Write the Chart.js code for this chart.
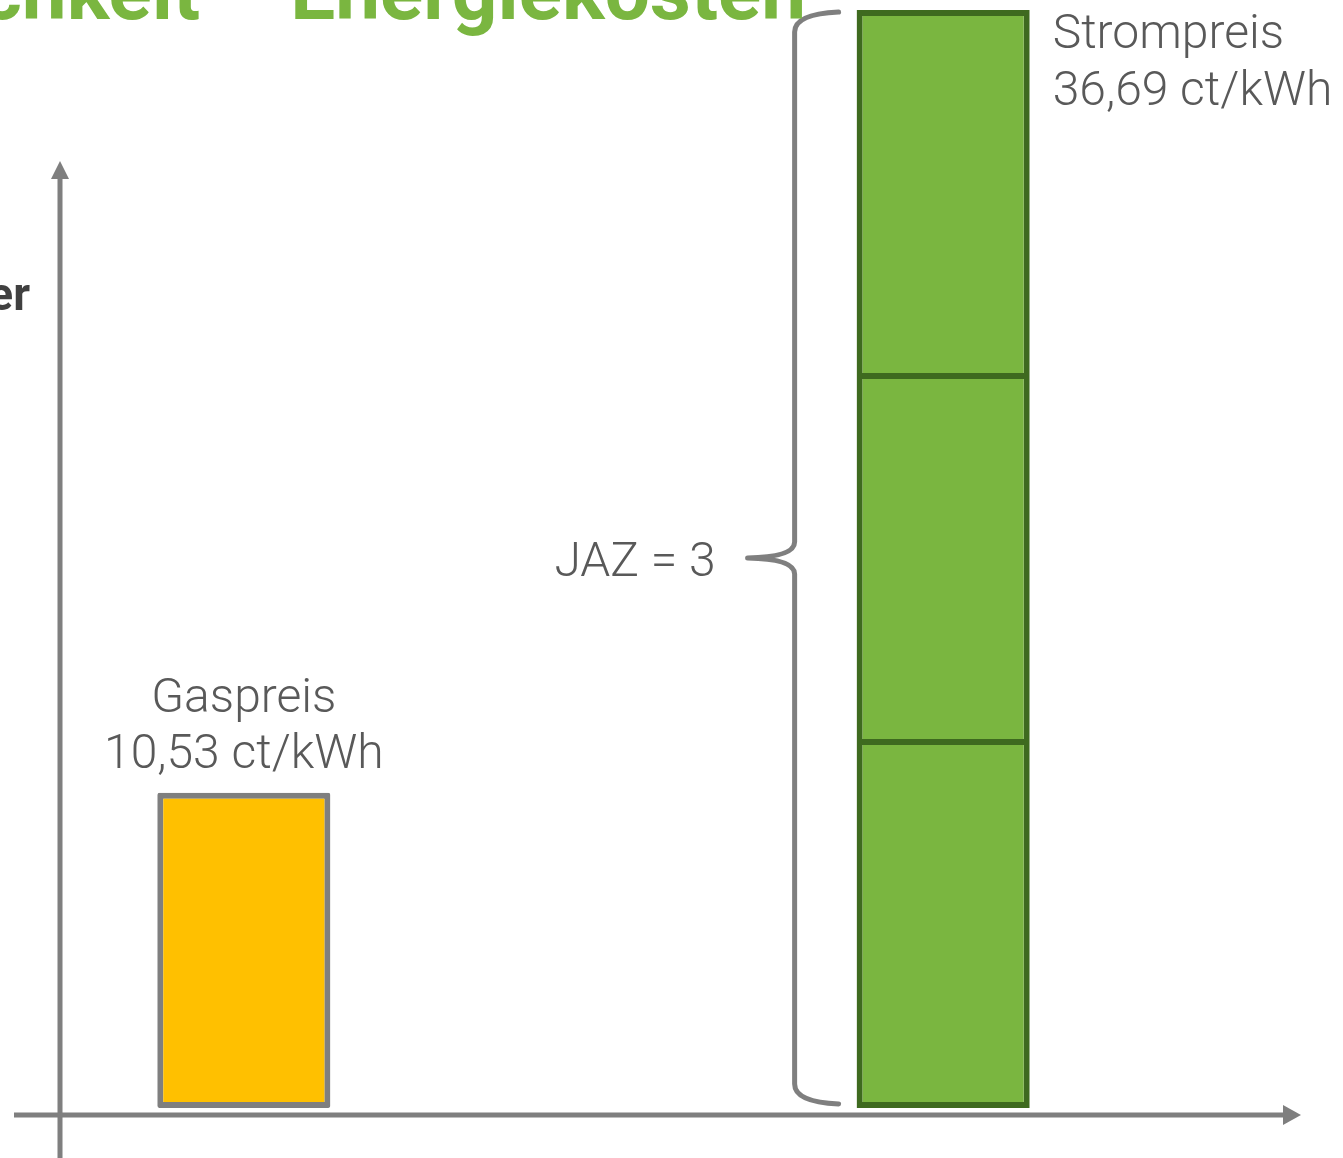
<!DOCTYPE html>
<html lang="de">
<head>
<meta charset="utf-8">
<title>Wirtschaftlichkeit – Energiekosten</title>
<script src="https://cdn.jsdelivr.net/npm/chart.js@4.4.1/dist/chart.umd.min.js"></script>
<style>
  html, body { margin: 0; padding: 0; background: #ffffff; overflow: hidden; }
  #wrap { position: relative; width: 1343px; height: 1158px; }
  canvas { display: block; }
</style>
</head>
<body>
<div id="wrap"><canvas id="chart" width="1343" height="1158"></canvas></div>
<script>
// Categories on the x axis (the middle slot holds the JAZ brace)
const categories = ['Gasheizung', '', 'Wärmepumpe'];
// Energy price for gas heating, ct/kWh
const gasPrice = [10.53, null, null];
// Electricity price split into JAZ equal parts (one part per unit of heat gained)
const stromPart1 = [null, null, 12.23];
const stromPart2 = [null, null, 12.23];
const stromPart3 = [null, null, 12.23];
const stromPrice = 36.69;
const jazValue = 3;

const titleText = 'Wirtschaftlichkeit – Energiekosten';
const gasLabel = ['Gaspreis', '10,53 ct/kWh'];
const stromLabel = ['Strompreis', '36,69 ct/kWh'];
const jazLabel = 'JAZ = ' + jazValue;
const sideLabel = 'er';

const GREY = '#7f7f7f';
const TEXT = '#595959';
const GREEN = '#7ab640';
const GREEN_DARK = '#3e6a1f';
const YELLOW = '#ffc000';

const fmtFont = (w, s) => w + ' ' + s + 'px Roboto, "Liberation Sans", sans-serif';

// Axes with arrow heads, the brace and all annotations
const decorPlugin = {
  id: 'decor',
  afterDraw(chart) {
    const ctx = chart.ctx;
    const area = chart.chartArea;
    const ys = chart.scales.y;
    const zeroY = ys.getPixelForValue(0);
    const topY = ys.getPixelForValue(stromPrice);

    ctx.save();
    // y axis
    const axX = area.left - 9;
    const axisY = zeroY + 7;
    ctx.fillStyle = GREY;
    ctx.fillRect(axX - 2.5, 176, 5, chart.height - 176);
    ctx.beginPath();
    ctx.moveTo(axX, 161);
    ctx.lineTo(axX + 9, 179);
    ctx.lineTo(axX - 9, 179);
    ctx.closePath();
    ctx.fill();
    // x axis
    ctx.fillRect(14, axisY - 2.5, 1272, 5);
    ctx.beginPath();
    ctx.moveTo(1301, axisY);
    ctx.lineTo(1283, axisY - 10);
    ctx.lineTo(1283, axisY + 10);
    ctx.closePath();
    ctx.fill();

    // brace left of the stacked electricity bar
    const sBar = chart.getDatasetMeta(1).data[2];
    const barLeft = sBar.x - sBar.width / 2;
    const endX = barLeft - 18;
    const spineX = barLeft - 62;
    const tipX = barLeft - 109;
    const bTop = topY + 2;
    const bBot = zeroY - 4;
    const mid = (bTop + bBot) / 2;
    ctx.strokeStyle = GREY;
    ctx.lineWidth = 5;
    ctx.lineCap = 'round';
    ctx.lineJoin = 'round';
    ctx.beginPath();
    ctx.moveTo(endX, bTop);
    ctx.quadraticCurveTo(spineX, bTop + 2, spineX, bTop + 20);
    ctx.lineTo(spineX, mid - 16);
    ctx.quadraticCurveTo(spineX, mid - 1, tipX, mid);
    ctx.moveTo(tipX, mid);
    ctx.quadraticCurveTo(spineX, mid + 1, spineX, mid + 16);
    ctx.lineTo(spineX, bBot - 20);
    ctx.quadraticCurveTo(spineX, bBot - 2, endX, bBot);
    ctx.stroke();

    // labels
    ctx.fillStyle = TEXT;
    ctx.font = fmtFont(300, 48);
    ctx.textBaseline = 'alphabetic';
    const gBar = chart.getDatasetMeta(0).data[0];
    ctx.textAlign = 'center';
    ctx.fillText(gasLabel[0], gBar.x, 712);
    ctx.fillText(gasLabel[1], gBar.x, 768);
    ctx.textAlign = 'left';
    const sx = barLeft + sBar.width + 23;
    ctx.fillText(stromLabel[0], sx, 48);
    ctx.fillText(stromLabel[1], sx, 105);
    ctx.textAlign = 'right';
    ctx.fillText(jazLabel, tipX - 32, mid + 18);

    // side label and title
    ctx.fillStyle = '#404040';
    ctx.font = fmtFont(700, 46);
    ctx.textAlign = 'right';
    ctx.fillText(sideLabel, 30, 310);

    ctx.fillStyle = GREEN;
    ctx.font = fmtFont(700, 80);
    ctx.textAlign = 'right';
    ctx.fillText(titleText, 806, 19);
    ctx.restore();
  }
};

const inner = 3, outer = 6;

function draw() {
  new Chart(document.getElementById('chart'), {
    type: 'bar',
    data: {
      labels: categories,
      datasets: [
        { label: 'Gaspreis', data: gasPrice, backgroundColor: YELLOW, borderColor: GREY,
          borderWidth: outer, borderSkipped: false, borderRadius: 2 },
        { label: 'Strom 1', data: stromPart1, backgroundColor: GREEN, borderColor: GREEN_DARK,
          borderWidth: { top: inner, left: outer, right: outer, bottom: outer }, borderSkipped: false },
        { label: 'Strom 2', data: stromPart2, backgroundColor: GREEN, borderColor: GREEN_DARK,
          borderWidth: { top: inner, left: outer, right: outer, bottom: inner }, borderSkipped: false },
        { label: 'Strom 3', data: stromPart3, backgroundColor: GREEN, borderColor: GREEN_DARK,
          borderWidth: { top: outer, left: outer, right: outer, bottom: inner }, borderSkipped: false }
      ]
    },
    options: {
      responsive: false,
      devicePixelRatio: 1,
      animation: false,
      categoryPercentage: 1,
      barPercentage: 0.495,
      layout: { padding: { left: 69, right: 225, top: 10, bottom: 50 } },
      plugins: { legend: { display: false }, tooltip: { enabled: false }, title: { display: false } },
      scales: {
        x: { stacked: true, display: false },
        y: { stacked: true, display: false, min: 0, max: stromPrice }
      }
    },
    plugins: [decorPlugin]
  });
}

Promise.all([
  document.fonts.load('300 48px Roboto'),
  document.fonts.load('700 80px Roboto')
]).then(draw, draw);
</script>
</body>
</html>
